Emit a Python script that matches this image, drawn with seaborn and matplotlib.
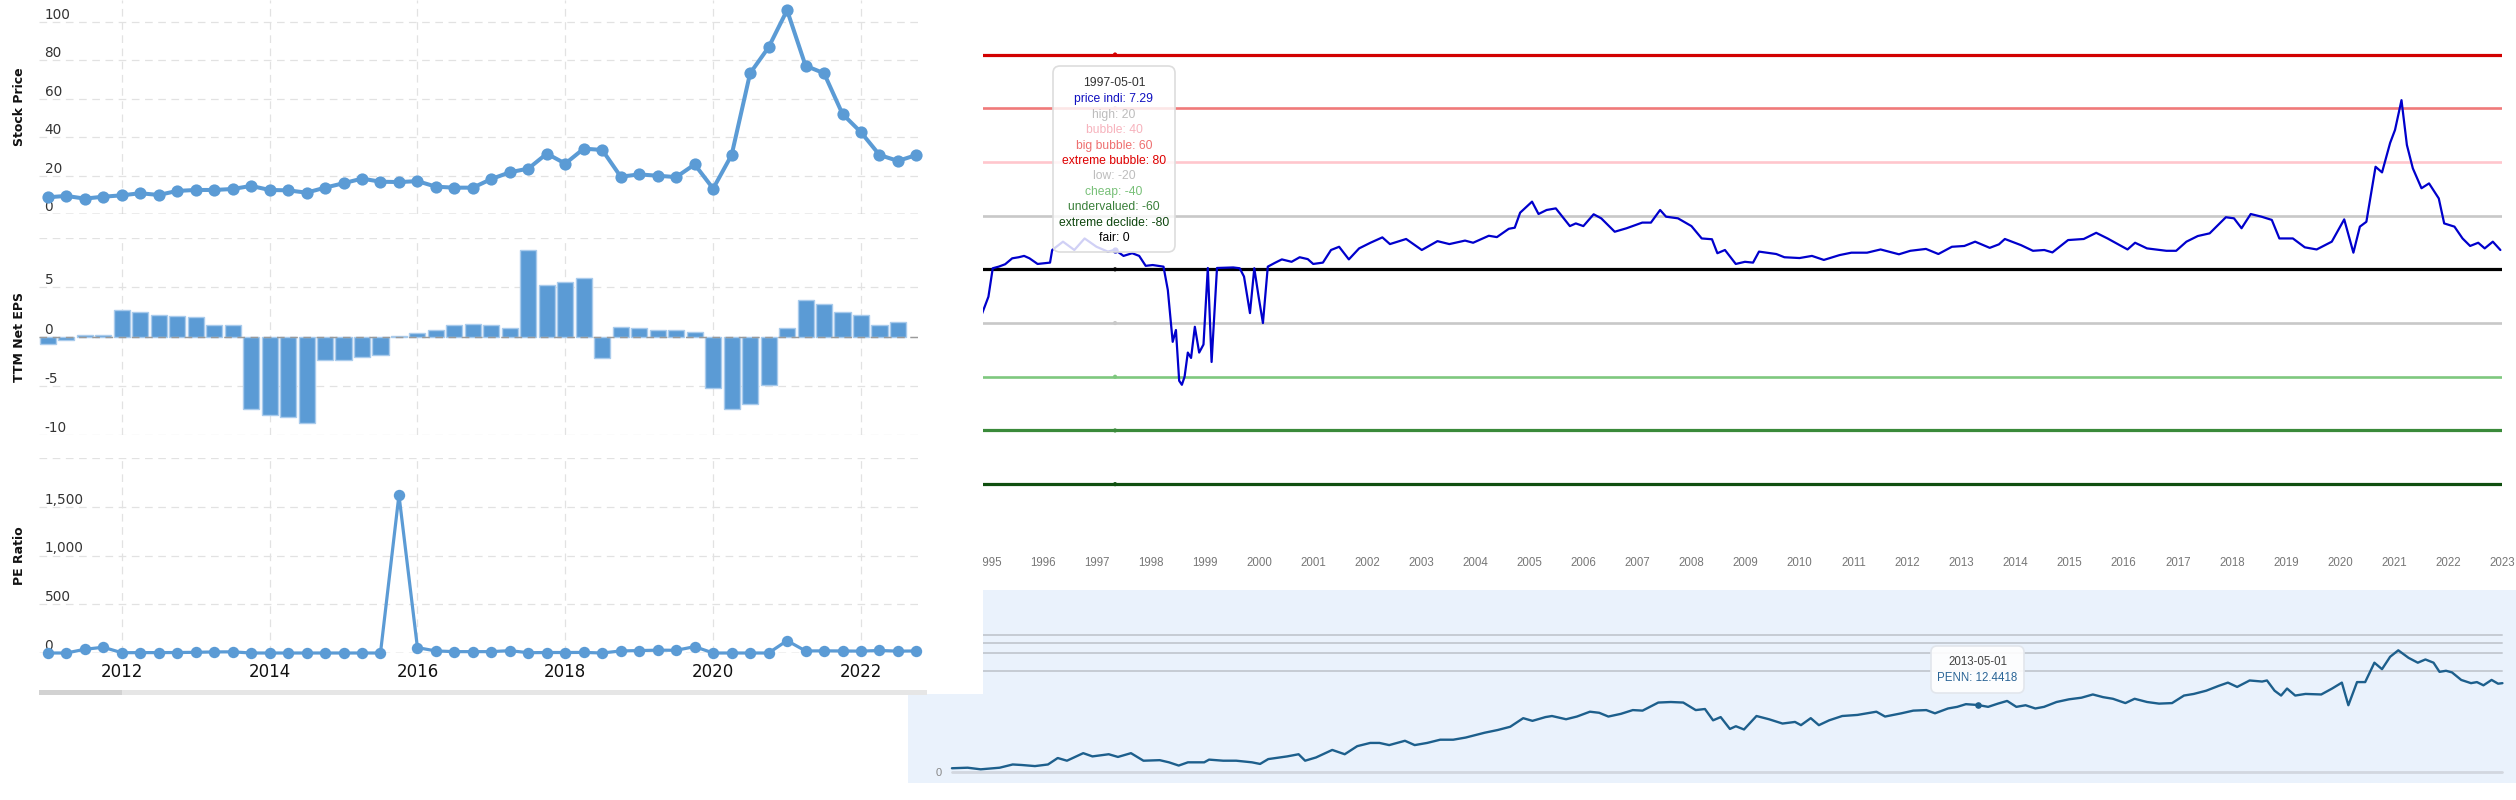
import numpy as np
import pandas as pd
import matplotlib
matplotlib.use("Agg")
import matplotlib.pyplot as plt
import seaborn as sns
from matplotlib.patches import FancyBboxPatch, Rectangle

# ---------------- data: left chart (quarterly) ----------------
quarter_dates = pd.date_range("2011-01-01", periods=48, freq="QS")
stock_price = [8.7, 9.4, 8.0, 9.0, 9.7, 10.8, 9.9, 12.0, 12.5, 12.5, 13.0, 14.6,
               12.5, 12.3, 11.1, 13.7, 16.0, 18.4, 16.8, 16.6, 17.1, 14.2, 13.7, 13.7,
               18.2, 21.7, 23.6, 31.4, 26.2, 34.0, 33.3, 19.4, 20.6, 19.9, 19.2, 25.8,
               13.2, 30.7, 73.2, 86.7, 106.0, 77.1, 73.2, 52.0, 42.5, 30.7, 27.6, 30.7]
ttm_eps = [-0.8, -0.4, 0.2, 0.2, 2.65, 2.5, 2.2, 2.1, 1.95, 1.2, 1.2, -7.4,
           -8.0, -8.2, -8.8, -2.35, -2.35, -2.07, -1.84, 0.01, 0.37, 0.71, 1.12, 1.22,
           1.12, 0.82, 8.8, 5.2, 5.54, 5.95, -2.2, 0.96, 0.82, 0.68, 0.68, 0.44,
           -5.24, -7.38, -6.87, -4.97, 0.82, 3.74, 3.33, 2.48, 2.21, 1.19, 1.46, np.nan]
pe_ratio = [0, 0, 38, 59, 3, 4, 4, 5, 7, 11, 12, 0,
            0, 0, 0, 0, 0, 0, 0, 1620, 55, 21, 14, 14,
            14, 24, 3, 5, 5, 6, 0, 21, 25, 29, 28, 65,
            0, 0, 0, 0, 127, 21, 22, 21, 19, 26, 19, 21]
left_year_ticks = [2012, 2014, 2016, 2018, 2020, 2022]
stock_ticks = [0, 20, 40, 60, 80, 100]
eps_ticks = [-10, -5, 0, 5, 10]
eps_tick_labels = ["-10", "-5", "0", "5", ""]
pe_ticks = [0, 500, 1000, 1500, 2000]
pe_tick_labels = ["0", "500", "1,000", "1,500", ""]

# ---------------- data: indicator chart ----------------
ind_t = [1994.87, 1994.99, 1995.07, 1995.18, 1995.30, 1995.43, 1995.55, 1995.65, 1995.75, 1995.90,
         1996.13, 1996.17, 1996.37, 1996.58, 1996.77, 1996.99, 1997.20, 1997.333, 1997.49, 1997.65,
         1997.78, 1997.90, 1998.03, 1998.23, 1998.31, 1998.40, 1998.46, 1998.52, 1998.57, 1998.62,
         1998.68, 1998.74, 1998.81, 1998.89, 1998.97, 1999.05, 1999.12, 1999.22, 1999.52, 1999.64,
         1999.72, 1999.83, 1999.91, 1999.99, 2000.07, 2000.16, 2000.30, 2000.42, 2000.60, 2000.75,
         2000.90, 2001.00, 2001.18, 2001.33, 2001.48, 2001.66, 2001.85, 2002.06, 2002.28, 2002.42,
         2002.72, 2003.01, 2003.30, 2003.52, 2003.81, 2003.96, 2004.25, 2004.40, 2004.62, 2004.73,
         2004.83, 2005.05, 2005.17, 2005.32, 2005.49, 2005.75, 2005.86, 2006.00, 2006.19, 2006.33,
         2006.58, 2006.80, 2007.09, 2007.25, 2007.42, 2007.53, 2007.75, 2008.00, 2008.19, 2008.38,
         2008.48, 2008.62, 2008.82, 2008.99, 2009.14, 2009.25, 2009.57, 2009.72, 2010.00, 2010.23,
         2010.45, 2010.74, 2010.96, 2011.25, 2011.50, 2011.84, 2012.05, 2012.34, 2012.57, 2012.82,
         2013.05, 2013.25, 2013.52, 2013.69, 2013.80, 2014.10, 2014.32, 2014.53, 2014.68, 2014.97,
         2015.26, 2015.49, 2015.70, 2016.07, 2016.21, 2016.43, 2016.79, 2016.97, 2017.16, 2017.37,
         2017.59, 2017.89, 2018.04, 2018.18, 2018.35, 2018.55, 2018.74, 2018.88, 2019.13, 2019.35,
         2019.57, 2019.85, 2020.08, 2020.25, 2020.37, 2020.49, 2020.66, 2020.78, 2020.93, 2021.02,
         2021.14, 2021.24, 2021.35, 2021.51, 2021.65, 2021.83, 2021.93, 2022.12, 2022.27, 2022.41,
         2022.56, 2022.68, 2022.83, 2022.97]
ind_v = [-16.6, -10.2, 0.4, 1.0, 1.9, 4.1, 4.5, 5.0, 4.1, 2.0,
         2.5, 7.2, 10.3, 7.2, 11.5, 8.4, 6.6, 7.29, 5.0, 6.0,
         5.0, 1.3, 1.6, 1.0, -7.7, -27.0, -22.6, -41.5, -43.0, -40.0,
         -31.0, -33.0, -21.4, -31.0, -28.0, 0.5, -34.5, 0.5, 0.7, 0.4,
         -2.7, -16.3, 0.4, -10.2, -20.0, 1.0, 2.5, 3.7, 2.8, 4.5,
         3.8, 2.0, 2.5, 7.2, 8.4, 3.7, 7.8, 9.9, 11.9, 9.4,
         11.3, 7.2, 10.5, 9.4, 10.7, 9.9, 12.5, 12.0, 15.1, 15.5,
         21.1, 25.2, 20.6, 22.1, 22.7, 16.1, 17.1, 16.1, 20.5, 19.0,
         14.0, 15.3, 17.4, 17.4, 22.1, 19.6, 19.0, 16.1, 11.5, 11.2,
         6.0, 7.2, 2.0, 2.8, 2.5, 6.6, 5.7, 4.5, 4.2, 5.0,
         3.5, 5.3, 6.2, 6.2, 7.4, 5.6, 6.9, 7.6, 5.7, 8.4,
         8.7, 10.3, 8.0, 9.3, 11.3, 9.0, 6.9, 7.2, 6.3, 10.9,
         11.3, 13.6, 11.5, 7.4, 9.9, 7.8, 6.9, 6.9, 10.3, 12.4,
         13.4, 19.4, 19.0, 15.3, 20.6, 19.6, 18.4, 11.5, 11.5, 8.2,
         7.4, 10.3, 18.6, 6.2, 15.9, 17.7, 38.2, 36.1, 47.1, 51.9,
         63.0, 46.3, 37.6, 30.2, 32.0, 26.4, 17.1, 15.9, 11.5, 8.7,
         9.9, 7.8, 10.3, 7.2]
ind_years = list(range(1995, 2024))
level_names = ["high", "bubble", "big bubble", "extreme bubble", "low",
               "cheap", "undervalued", "extreme declide", "fair"]
level_values = [20, 40, 60, 80, -20, -40, -60, -80, 0]
level_line_colors = ["#c8c8c8", "#ffc6cd", "#f07a7a", "#d20000", "#c8c8c8",
                     "#7ec87e", "#3a8a3a", "#0f4f0f", "#000000"]
level_text_colors = ["#bdbdbd", "#f7b3bd", "#ee7070", "#dd0000", "#bdbdbd",
                     "#78c078", "#3a803a", "#0e460e", "#000000"]
ind_tooltip_date = "1997-05-01"
ind_tooltip_value = 7.29

# ---------------- data: bottom PENN chart ----------------
penn_t = [1994.42, 1994.71, 1994.95, 1995.30, 1995.54, 1995.71, 1995.95, 1996.19, 1996.37, 1996.54,
          1996.84, 1997.01, 1997.31, 1997.48, 1997.72, 1997.95, 1998.25, 1998.42, 1998.60, 1998.77,
          1999.07, 1999.16, 1999.42, 1999.66, 1999.95, 2000.10, 2000.25, 2000.60, 2000.81, 2000.93,
          2001.13, 2001.43, 2001.66, 2001.89, 2002.13, 2002.30, 2002.48, 2002.77, 2002.95, 2003.18,
          2003.42, 2003.66, 2003.89, 2004.24, 2004.48, 2004.71, 2004.95, 2005.12, 2005.36, 2005.48,
          2005.74, 2005.94, 2006.18, 2006.35, 2006.52, 2006.75, 2006.97, 2007.15, 2007.44, 2007.67,
          2007.90, 2008.13, 2008.30, 2008.45, 2008.59, 2008.76, 2008.87, 2009.02, 2009.25, 2009.48,
          2009.73, 2009.96, 2010.07, 2010.25, 2010.40, 2010.59, 2010.83, 2011.11, 2011.46, 2011.62,
          2011.92, 2012.14, 2012.38, 2012.54, 2012.78, 2012.95, 2013.11, 2013.333, 2013.52, 2013.70,
          2013.87, 2014.04, 2014.21, 2014.39, 2014.55, 2014.78, 2015.01, 2015.24, 2015.45, 2015.64,
          2015.82, 2016.05, 2016.22, 2016.45, 2016.67, 2016.91, 2017.13, 2017.31, 2017.54, 2017.77,
          2017.94, 2018.11, 2018.34, 2018.57, 2018.66, 2018.80, 2018.92, 2019.03, 2019.18, 2019.37,
          2019.66, 2019.86, 2020.04, 2020.16, 2020.32, 2020.47, 2020.64, 2020.78, 2020.93, 2021.08,
          2021.27, 2021.44, 2021.58, 2021.73, 2021.84, 2021.96, 2022.07, 2022.24, 2022.42, 2022.53,
          2022.65, 2022.80, 2022.92, 2023.00]
penn_v = [0.7, 0.8, 0.5, 0.8, 1.4, 1.3, 1.1, 1.4, 2.6, 2.1,
          3.5, 2.9, 3.3, 2.8, 3.5, 2.1, 2.2, 1.8, 1.2, 1.8,
          1.8, 2.3, 2.1, 2.1, 1.8, 1.5, 2.4, 2.9, 3.3, 2.1,
          2.7, 4.1, 3.3, 4.8, 5.4, 5.4, 5.0, 5.8, 5.0, 5.4,
          6.0, 6.0, 6.4, 7.3, 7.8, 8.4, 10.0, 9.5, 10.2, 10.4,
          9.8, 10.3, 11.2, 11.0, 10.3, 10.8, 11.5, 11.4, 12.9, 13.0,
          12.9, 11.5, 11.7, 9.6, 10.2, 8.0, 8.5, 7.9, 10.4, 9.8,
          9.0, 9.3, 8.7, 10.0, 8.7, 9.6, 10.4, 10.6, 11.2, 10.3,
          10.9, 11.4, 11.5, 10.9, 11.8, 12.1, 12.6, 12.4418, 12.1, 12.7,
          13.2, 12.1, 12.4, 11.8, 12.1, 13.0, 13.5, 13.8, 14.4, 13.9,
          13.6, 12.8, 13.6, 13.0, 12.7, 12.8, 14.2, 14.5, 15.1, 16.0,
          16.6, 15.8, 17.0, 16.8, 17.0, 15.1, 14.2, 15.5, 14.2, 14.5,
          14.4, 15.5, 16.6, 12.4, 16.7, 16.7, 20.3, 19.1, 21.4, 22.6,
          21.2, 20.3, 20.9, 20.3, 18.6, 18.8, 18.5, 17.1, 16.5, 16.7,
          16.1, 17.1, 16.4, 16.5]
penn_ref_lines = [18.7, 22.1, 24.0, 25.4]
penn_tooltip_date = "2013-05-01"
penn_tooltip_text = "PENN: 12.4418"

# ---------------- styling ----------------
sns.set_theme(style="white")
plt.rcParams["font.family"] = ["DejaVu Sans"]
plt.rcParams["lines.scale_dashes"] = False
BLUE = "#5b9bd5"
GRID = "#e2e2e2"
DASH = (0, (5.5, 4))
NARROW = ["Liberation Sans", "DejaVu Sans"]

W, H = 2516, 800
fig = plt.figure(figsize=(W / 100, H / 100), dpi=100)
fig.patch.set_facecolor("white")


def add_ax(l, t, r, b):
    return fig.add_axes([l / W, 1 - b / H, (r - l) / W, (b - t) / H])


def px_to_in(x, y):
    return x / 100.0, (H - y) / 100.0


def to_dec(dates):
    d = pd.to_datetime(dates)
    return np.asarray(d.year + (d.month - 1) / 12.0 + (d.day - 1) / 365.0, dtype=float)


qt = to_dec(quarter_dates)
dfq = pd.DataFrame({"t": qt, "price": stock_price, "eps": ttm_eps, "pe": pe_ratio})

# ---------------- indicator chart ----------------
ax4 = add_ax(960, 0, 2502, 540)
ax4.set_zorder(1)
ax4.set_facecolor("white")
ax4.set_xlim(1994.464, 2023.0)
ax4.set_ylim(-100.8, 100.3)
for val, col in zip(level_values, level_line_colors):
    lw = 2.3 if abs(val) in (0, 80) or val == -60 else 1.9
    ax4.axhline(val, color=col, lw=lw, zorder=1)
sns.lineplot(x=ind_t, y=ind_v, color="#0000cc", lw=1.6, ax=ax4, zorder=3)
tt_ind = float(to_dec([ind_tooltip_date])[0])
ax4.scatter([tt_ind] * len(level_values), level_values, s=9,
            c=level_line_colors, edgecolors="none", zorder=4)
ax4.scatter([tt_ind], [ind_tooltip_value], s=12, c="#0000cc", zorder=4)
ax4.set_xticks(ind_years)
ax4.set_xticklabels([str(y) for y in ind_years], fontfamily=NARROW)
ax4.set_yticks([])
ax4.tick_params(axis="x", length=0, labelsize=8.3, labelcolor="#777777", pad=12)
for s in ax4.spines.values():
    s.set_visible(False)
ax4.set_xlabel("")
ax4.set_ylabel("")

# indicator tooltip
x0, y0 = px_to_in(1053, 252)
fig.add_artist(FancyBboxPatch((x0, y0), 1.22, 1.86, boxstyle="round,pad=0,rounding_size=0.07",
                              transform=fig.dpi_scale_trans, facecolor=(1, 1, 1, 0.82),
                              edgecolor="#dddddd", lw=1.2, zorder=3))
tip_lines = [(ind_tooltip_date, "#333333")]
tip_lines.append((f"price indi: {ind_tooltip_value}", "#1010c0"))
for n, v, c in zip(level_names, level_values, level_text_colors):
    tip_lines.append((f"{n}: {v}", c))
for i, (txt, col) in enumerate(tip_lines):
    yy = 82.7 + i * 15.4 + (1.2 if i > 0 else 0)
    fig.text(1114 / W, 1 - yy / H, txt, ha="center", va="center", fontsize=8.7,
             color=col, family=NARROW, zorder=4)

# ---------------- bottom PENN chart ----------------
ax5 = add_ax(908, 590, 2516, 783)
ax5.set_zorder(1)
ax5.set_facecolor("#eaf2fc")
ax5.set_xlim(1993.61, 2023.25)
ax5.set_ylim(-2.04, 33.8)
xa, xb = (952 - 908) / 1608, (2502 - 908) / 1608
for v in penn_ref_lines:
    ax5.axhline(v, xmin=(980 - 908) / 1608, xmax=xb, color="#c6cbd3", lw=1.4, zorder=1)
ax5.axhline(0, xmin=xa, xmax=xb, color="#d2d7df", lw=2, zorder=1)
sns.lineplot(x=penn_t, y=penn_v, color="#1d5f8c", lw=1.7, ax=ax5, zorder=3)
tt_penn = float(to_dec([penn_tooltip_date])[0])
ax5.scatter([tt_penn], [12.4418], s=14, c="#1d5f8c", zorder=4)
ax5.set_xticks([])
ax5.set_yticks([0])
ax5.set_yticklabels(["0"], fontfamily=NARROW)
ax5.tick_params(axis="y", length=0, labelsize=8, labelcolor="#888888", pad=-24)
for s in ax5.spines.values():
    s.set_visible(False)
ax5.set_xlabel("")
ax5.set_ylabel("")

bx0, by0 = px_to_in(1931, 693)
fig.add_artist(FancyBboxPatch((bx0, by0), 0.93, 0.47, boxstyle="round,pad=0,rounding_size=0.06",
                              transform=fig.dpi_scale_trans, facecolor=(1, 1, 1, 0.9),
                              edgecolor="#e2e6ec", lw=1.2, zorder=3))
fig.text(1977.5 / W, 1 - 661.7 / H, penn_tooltip_date, ha="center", va="center",
         fontsize=8.3, color="#444444", family=NARROW, zorder=4)
fig.text(1977.5 / W, 1 - 678.3 / H, penn_tooltip_text, ha="center", va="center",
         fontsize=8.3, color="#2a6496", family=NARROW, zorder=4)

# ---------------- left chart background ----------------
bg = add_ax(0, 0, 983, 694)
bg.set_zorder(5)
bg.set_facecolor("white")
bg.set_xticks([])
bg.set_yticks([])
for s in bg.spines.values():
    s.set_visible(False)

XL = (2010.881, 2022.798)
ax1 = add_ax(39, 0, 920, 214)
ax2 = add_ax(39, 238, 920, 435)
ax3 = add_ax(39, 458, 920, 653)
for ax in (ax1, ax2, ax3):
    ax.set_zorder(6)
    ax.set_facecolor("none")
    ax.set_axisbelow(True)
    for s in ax.spines.values():
        s.set_visible(False)

# stock price
sns.lineplot(data=dfq, x="t", y="price", ax=ax1, color=BLUE, lw=2.9, marker="o",
             markersize=8.8, markeredgewidth=0, markeredgecolor=BLUE, clip_on=False, zorder=3)
ax1.set_ylim(0, 111.3)
ax1.set_yticks(stock_ticks)
ax1.set_yticklabels([str(v) for v in stock_ticks])
ax1.axhline(0, color="#b3b3b3", ls=DASH, lw=1, zorder=1)

# EPS bars
sns.barplot(data=dfq, x="t", y="eps", ax=ax2, native_scale=True, width=0.87, color=BLUE,
            saturation=1, edgecolor="#a9cbec", linewidth=1, errorbar=None, zorder=2)
ax2.set_ylim(-10, 10)
ax2.set_yticks(eps_ticks)
ax2.set_yticklabels(eps_tick_labels)
ax2.axhline(0, color="#9a9a9a", ls=DASH, lw=1, zorder=3)

# PE ratio
sns.lineplot(data=dfq, x="t", y="pe", ax=ax3, color=BLUE, lw=2.3, marker="o",
             markersize=8.2, markeredgewidth=0, markeredgecolor=BLUE, clip_on=False, zorder=3)
ax3.set_ylim(0, 2000)
ax3.set_yticks(pe_ticks)
ax3.set_yticklabels(pe_tick_labels)
ax3.axhline(0, color="#cccccc", ls=DASH, lw=1, zorder=1)

titles = ["Stock Price", "TTM Net EPS", "PE Ratio"]
for ax, title in zip((ax1, ax2, ax3), titles):
    ax.set_xlim(*XL)
    ax.set_xticks(left_year_ticks)
    ax.grid(True, color=GRID, ls=DASH, lw=0.9)
    ax.tick_params(axis="both", length=0)
    ax.tick_params(axis="y", pad=-4, labelsize=9.8, labelcolor="#333333")
    for lab in ax.get_yticklabels():
        lab.set_horizontalalignment("left")
        lab.set_verticalalignment("bottom")
    ax.set_xlabel("")
    ax.set_ylabel(title, fontsize=9, fontweight="bold", color="#111111")
    ax.yaxis.set_label_coords(-13 / 881, 0.5)

ax1.tick_params(axis="x", labelbottom=False)
ax2.tick_params(axis="x", labelbottom=False)
ax3.set_xticklabels([str(y) for y in left_year_ticks])
ax3.tick_params(axis="x", labelsize=12, pad=7, labelcolor="#111111")

# scrollbar strip under left chart
sx, sy = px_to_in(39, 695)
fig.add_artist(Rectangle((sx, sy), 8.88, 0.05, transform=fig.dpi_scale_trans,
                         facecolor="#e6e6e6", edgecolor="none", zorder=7))
fig.add_artist(Rectangle((sx, sy), 0.83, 0.05, transform=fig.dpi_scale_trans,
                         facecolor="#d2d2d2", edgecolor="none", zorder=7))

fig.savefig("out.png", dpi=100, facecolor="white")
